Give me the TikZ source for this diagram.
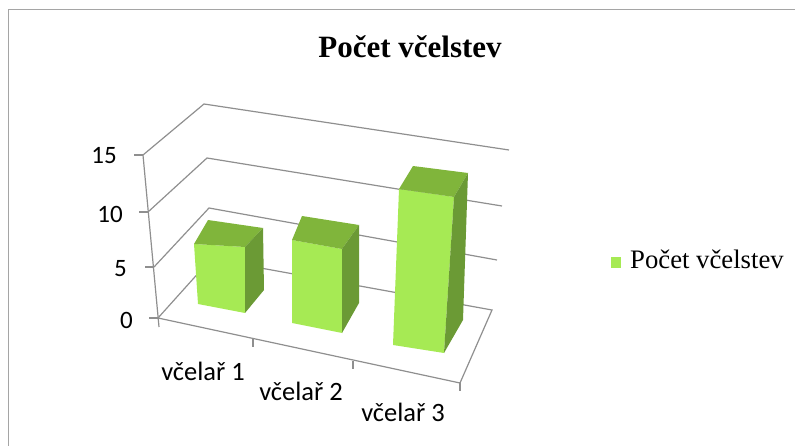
\documentclass[tikz,border=0pt]{standalone}
\usepackage{fontspec}
\setmainfont{Liberation Serif}
\newfontfamily\calfont{Carlito}
\usetikzlibrary{positioning}
\definecolor{barfront}{HTML}{A6EA54}
\definecolor{bartop}{HTML}{80B53B}
\definecolor{barside}{HTML}{6B9A35}
\definecolor{gridgray}{HTML}{8F8F8F}
\begin{document}
\begin{tikzpicture}[x=1pt,y=-1pt,grid/.style = {draw=gridgray, line width=1.2pt},
frontface/.style = {fill=barfront},topface/.style = {fill=bartop},sideface/.style = {fill=barside},
axlab/.style = {inner sep=0pt, font=\calfont\fontsize{25}{30}\selectfont},
catlab/.style = {inner sep=0pt, anchor=base, font=\calfont\fontsize{26.5}{31}\selectfont},]
\useasboundingbox (0,0) rectangle (795,446);
\draw[gridgray!80, line width=1pt] (8,446)--(8,10)--(795,10);
% corners of walls and floor
\coordinate (y15) at (143,155);
\coordinate (y10) at (148,212);
\coordinate (y5) at (154,267);
\coordinate (y0) at (158,318);
\coordinate (b15) at (204,104);
\coordinate (b10) at (207,158);
\coordinate (b5) at (209,208);
\coordinate (b0) at (211,259);
\coordinate (r15) at (509,150);
\coordinate (r10) at (502,206);
\coordinate (r5) at (497,260);
\coordinate (r0) at (492,310);
\coordinate (f0) at (460,383);
\coordinate (t1) at (253,339);
\coordinate (t2) at (353,361);
\draw[grid] (159,327)--(y15);
\foreach \v in {5,10,15} \draw[grid] (y\v)--(b\v)--(r\v);
\draw[grid] (y0)--(b0)--(r0)--(f0)--(y0);
\foreach \v in {0,5,10,15} \draw[grid] (y\v)--++(-9,0);
\foreach \t in {t1,t2,f0} \draw[grid] (\t)--++(0,8);
% bars
\fill[frontface] (194,244)--(245,247)--(245,313)--(198,304)--cycle;
\fill[topface] (194,244)--(208,220)--(263,228)--(245,247)--cycle;
\fill[sideface] (245,247)--(263,228)--(264,290)--(245,313)--cycle;
\fill[frontface] (292,240)--(342,249)--(342,333)--(292,323)--cycle;
\fill[topface] (292,240)--(302,216)--(359,225)--(342,249)--cycle;
\fill[sideface] (342,249)--(359,225)--(359,303)--(342,333)--cycle;
\fill[frontface] (399,189)--(454,197)--(444,353)--(393,345)--cycle;
\fill[topface] (399,189)--(413,166)--(468,173)--(454,197)--cycle;
\fill[sideface] (454,197)--(468,173)--(463,320)--(444,353)--cycle;
% labels
\node (L15) at (117,156)[axlab,anchor=east] {15};
\node (L10) at (123,214)[axlab,anchor=east] {10};
\node (L5) at (127,269)[axlab,anchor=east] {5};
\node (L0) at (133,320)[axlab,anchor=east] {0};
\node (C1) at (203,380)[catlab] {včelař 1};
\node (C2) at (301,400)[catlab] {včelař 2};
\node (C3) at (403,421)[catlab] {včelař 3};
\node (T) at (410,58)[inner sep=0pt,anchor=base,font=\bfseries\fontsize{31}{37}\selectfont] {Počet včelstev};
\node (K) at (611,257)[fill=barfront,anchor=north west,minimum width=10pt,minimum height=11pt,inner sep=0pt] {};
\node (KL) at (630,269)[inner sep=0pt,anchor=base west,font=\fontsize{26.7}{32}\selectfont] {Počet včelstev};
\end{tikzpicture}
\end{document}
